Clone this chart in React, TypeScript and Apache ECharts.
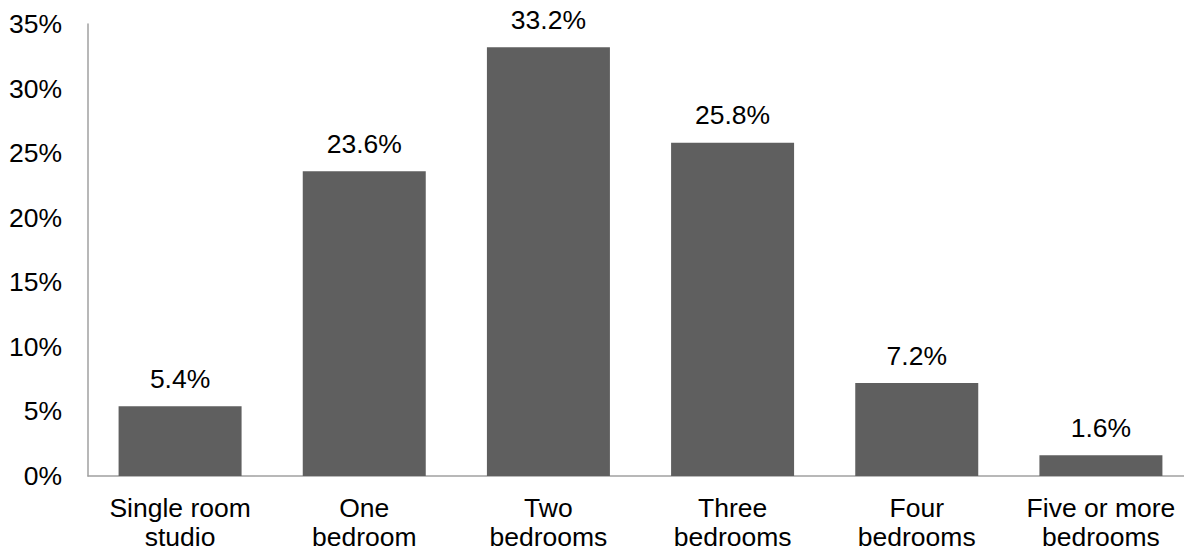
import React, { useEffect, useRef } from "react";
import * as echarts from "echarts";

const categories = ["Single room\nstudio", "One\nbedroom", "Two\nbedrooms", "Three\nbedrooms", "Four\nbedrooms", "Five or more\nbedrooms"];
const shares = [5.4, 23.6, 33.2, 25.8, 7.2, 1.6];
const yMin = 0;
const yMax = 35;
const yStep = 5;

const FONT = "Liberation Sans, Arial, sans-serif";
const FS = 26.5;

export default function App() {
  const ref = useRef<HTMLDivElement>(null);
  useEffect(() => {
    document.body.style.margin = "0";
    const chart = echarts.init(ref.current!, null, { renderer: "svg" });
    chart.setOption({
      animation: false,
      backgroundColor: "#ffffff",
      grid: {
        left: 88,
        width: 1105,
        top: 24,
        bottom: 78,
        containLabel: false,
        outerBoundsMode: "none",
      },
      xAxis: {
        type: "category",
        data: categories,
        axisLine: { show: true, lineStyle: { color: "#a0a0a0", width: 1.5 } },
        axisTick: { show: false },
        axisLabel: {
          interval: 0,
          color: "#000",
          fontFamily: FONT,
          fontSize: FS,
          lineHeight: 29,
          margin: 17,
        },
      },
      yAxis: {
        type: "value",
        min: yMin,
        max: yMax,
        interval: yStep,
        axisLine: { show: true, lineStyle: { color: "#a0a0a0", width: 1.5 } },
        axisTick: { show: false },
        splitLine: { show: false },
        axisLabel: {
          color: "#000",
          fontFamily: FONT,
          fontSize: FS,
          margin: 26,
          formatter: "{value}%",
        },
      },
      series: [
        {
          type: "bar",
          data: shares,
          barWidth: 123,
          itemStyle: { color: "#5f5f5f" },
          label: {
            show: true,
            position: "top",
            distance: 14,
            color: "#000",
            fontFamily: FONT,
            fontSize: FS,
            formatter: (p: any) => p.value.toFixed(1) + "%",
          },
        },
      ],
    });
    return () => chart.dispose();
  }, []);
  return <div ref={ref} style={{ width: 1184, height: 554 }} />;
}
